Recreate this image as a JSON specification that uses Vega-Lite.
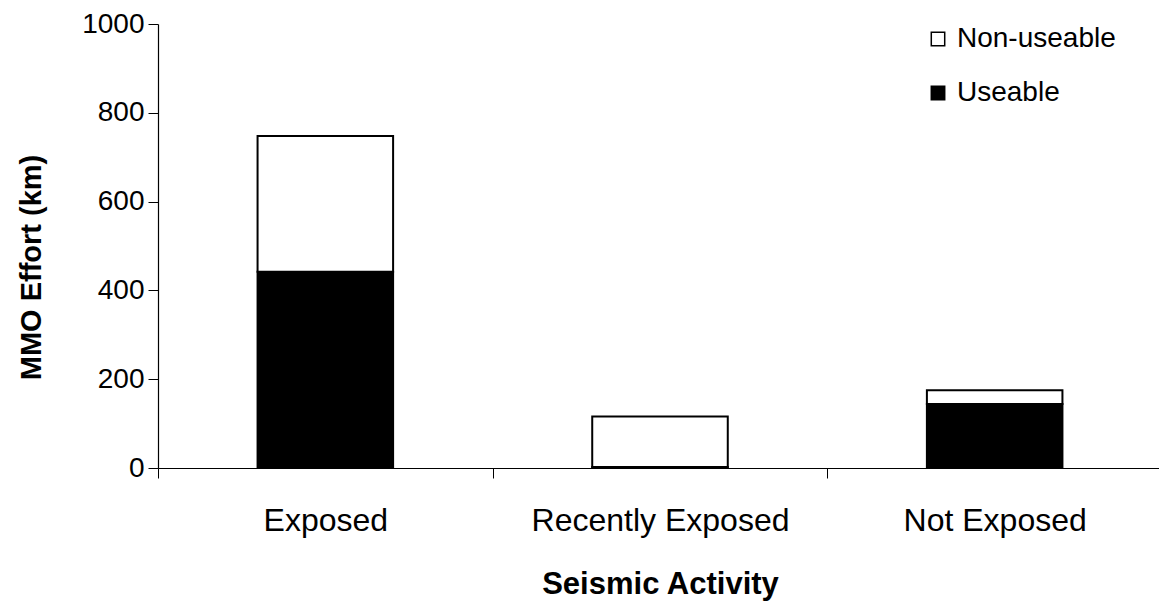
{
  "$schema": "https://vega.github.io/schema/vega-lite/v6.json",
  "width": 1001,
  "height": 444,
  "autosize": "none",
  "padding": {"left": 158, "top": 24, "right": 0, "bottom": 143},
  "background": "white",
  "config": {
    "view": {"stroke": null},
    "font": "Liberation Sans"
  },
  "data": {
    "values": [
      {"activity": "Exposed", "type": "Useable", "effort": 442},
      {"activity": "Exposed", "type": "Non-useable", "effort": 306},
      {"activity": "Recently Exposed", "type": "Useable", "effort": 2},
      {"activity": "Recently Exposed", "type": "Non-useable", "effort": 114},
      {"activity": "Not Exposed", "type": "Useable", "effort": 144},
      {"activity": "Not Exposed", "type": "Non-useable", "effort": 31}
    ]
  },
  "mark": {"type": "bar", "width": {"band": 0.405}, "stroke": "black", "strokeWidth": 2},
  "encoding": {
    "x": {
      "field": "activity",
      "type": "nominal",
      "sort": ["Exposed", "Recently Exposed", "Not Exposed"],
      "scale": {"paddingInner": 0, "paddingOuter": 0, "range": [0, 1004]},
      "axis": {
        "title": "Seismic Activity",
        "titleFontSize": 31,
        "titleFontWeight": "bold",
        "titleColor": "black",
        "titlePadding": 33,
        "labelAngle": 0,
        "labelFontSize": 32,
        "labelLimit": 0,
        "labelColor": "black",
        "labelPadding": 27,
        "tickBand": "extent",
        "tickSize": 10,
        "tickColor": "black",
        "domainColor": "black",
        "domainWidth": 1.2
      }
    },
    "y": {
      "field": "effort",
      "type": "quantitative",
      "stack": "zero",
      "scale": {"domain": [0, 1000], "nice": false},
      "axis": {
        "title": "MMO Effort (km)",
        "titleFontSize": 29,
        "titleFontWeight": "bold",
        "titleColor": "black",
        "titlePadding": 35,
        "titleY": 243,
        "values": [0, 200, 400, 600, 800, 1000],
        "format": "d",
        "labelFontSize": 28,
        "labelColor": "black",
        "labelPadding": 4,
        "tickSize": 10,
        "tickColor": "black",
        "domainColor": "black",
        "domainWidth": 1.2,
        "grid": false
      }
    },
    "color": {
      "field": "type",
      "type": "nominal",
      "scale": {"domain": ["Non-useable", "Useable"], "range": ["white", "black"]},
      "legend": {
        "title": null,
        "orient": "none",
        "legendX": 766,
        "legendY": 1,
        "symbolType": "square",
        "symbolSize": 180,
        "symbolStrokeColor": "black",
        "symbolStrokeWidth": 1.5,
        "labelFontSize": 28,
        "labelColor": "black",
        "labelOffset": 5,
        "rowPadding": 26
      }
    },
    "order": {"field": "type", "sort": "descending"}
  }
}
